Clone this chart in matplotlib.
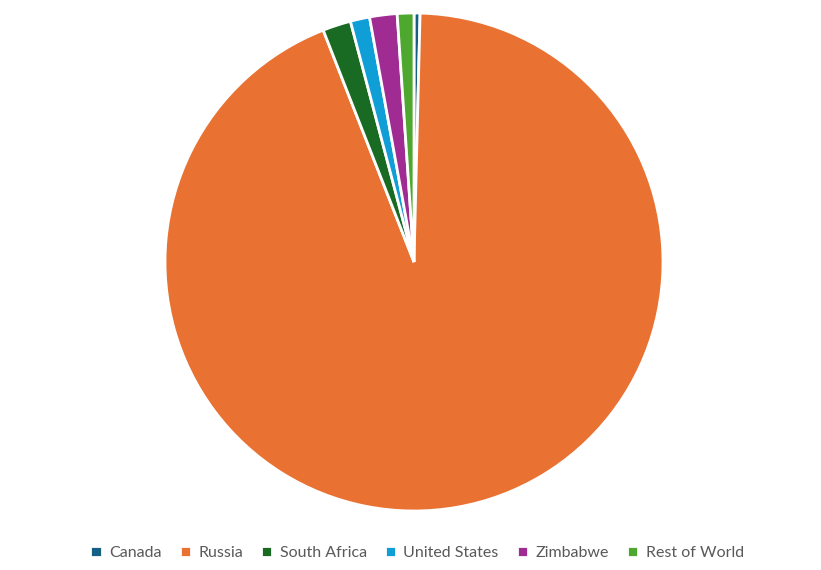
import matplotlib.pyplot as plt

countries = ['Canada', 'Russia', 'South Africa', 'United States', 'Zimbabwe', 'Rest of World']
shares = [0.39, 93.67, 1.83, 1.25, 1.78, 1.08]
colors = ['#156082', '#E97132', '#196B24', '#0F9ED5', '#A02B93', '#4EA72E']

plt.rcParams['font.family'] = ['Lato', 'DejaVu Sans']

fig = plt.figure(figsize=(8.21, 5.70), dpi=100)
ax = fig.add_axes([165 / 821, 59 / 570, 498 / 821, 498 / 570])

wedges, _ = ax.pie(shares, colors=colors, startangle=90, counterclock=False,
                   radius=1, wedgeprops=dict(edgecolor='white', linewidth=2))
ax.set_xlim(-1, 1)
ax.set_ylim(-1, 1)
ax.set_aspect('equal')
ax.axis('off')

fig.legend(wedges, countries, loc='center', bbox_to_anchor=(0.508, 0.03),
           ncol=6, frameon=False, fontsize=11.5, handlelength=0.7, handleheight=0.7,
           handletextpad=0.45, columnspacing=1.15, labelcolor='#595959')

fig.savefig('out.png', dpi=100)
